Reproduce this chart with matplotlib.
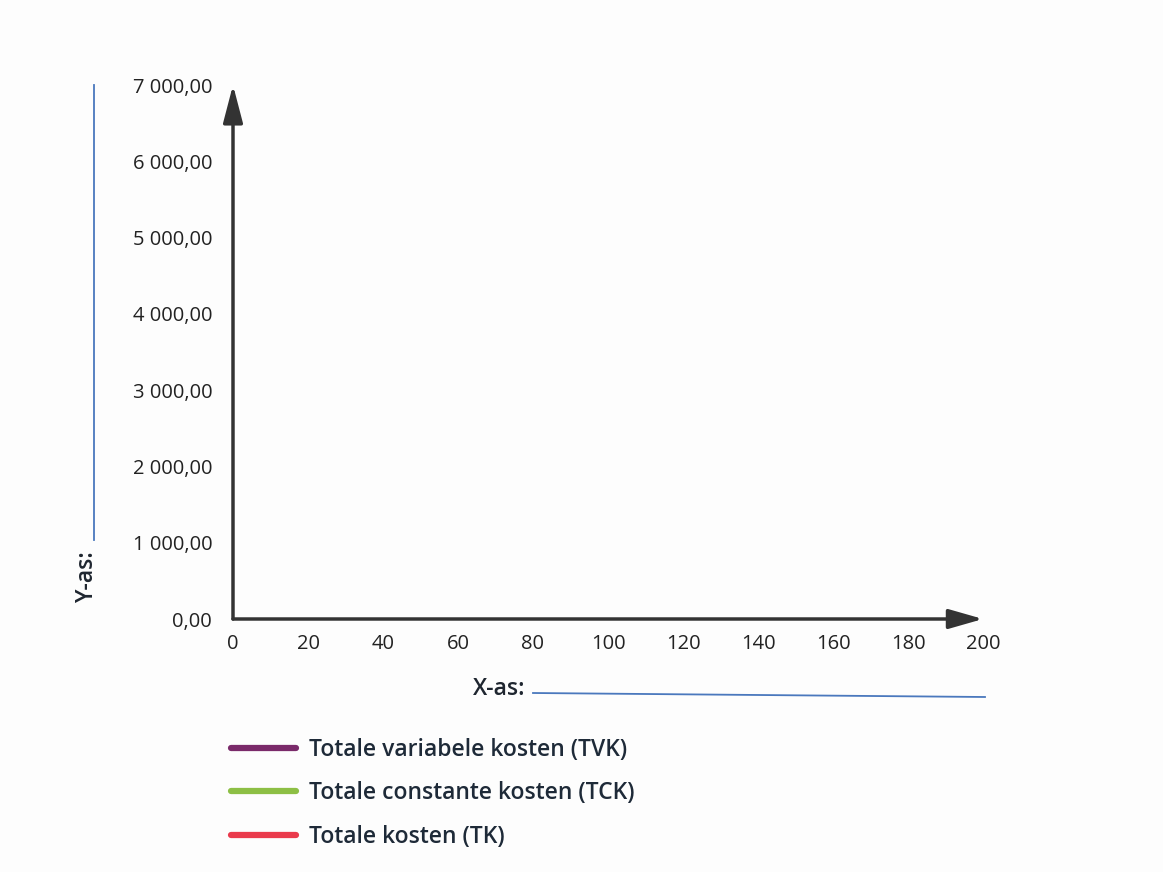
import matplotlib
matplotlib.use("Agg")
import matplotlib.pyplot as plt
from matplotlib.patches import FancyArrowPatch
from matplotlib.lines import Line2D

# ---- data (empty worksheet chart) ----
x_ticks = [0, 20, 40, 60, 80, 100, 120, 140, 160, 180, 200]
y_ticks = [0, 1000, 2000, 3000, 4000, 5000, 6000, 7000]
series_names = ["Totale variabele kosten (TVK)",
                "Totale constante kosten (TCK)",
                "Totale kosten (TK)"]
series_colors = ["#7a2a6a", "#8dbf45", "#ea3a4c"]
x_label = "X-as:"
y_label = "Y-as:"

plt.rcParams['font.family'] = ['Open Sans', 'DejaVu Sans']

W, H = 1163, 872
fig = plt.figure(figsize=(W / 100, H / 100), dpi=100)
fig.patch.set_facecolor("#fdfdfd")

def fx(px):
    return px / W

def fy(py):
    return 1 - py / H

ax = fig.add_axes([fx(233), fy(619), fx(983) - fx(233), fy(85) - fy(619)])
ax.set_facecolor("none")
ax.set_xlim(0, 200)
ax.set_ylim(0, 7000)
for s in ax.spines.values():
    s.set_visible(False)

ax.set_xticks(x_ticks)
ax.set_yticks(y_ticks)
ax.set_xticklabels([str(v) for v in x_ticks])
ax.set_yticklabels([f"{v:,.2f}".replace(",", " ").replace(".", ",") for v in y_ticks])
ax.tick_params(axis="both", length=0, labelsize=14.5, labelcolor="#222222")
ax.tick_params(axis="x", pad=11)
ax.tick_params(axis="y", pad=15)

# empty series (to be filled in by student)
for name, col in zip(series_names, series_colors):
    ax.plot([], [], color=col, lw=4.5, solid_capstyle="round", label=name)

# axis arrows
axis_col = "#333333"
arr_y = FancyArrowPatch((0, 0), (0, 1), transform=ax.transAxes,
                        arrowstyle="-|>,head_length=23,head_width=6",
                        mutation_scale=1, lw=2.5, color=axis_col,
                        clip_on=False, shrinkA=0, shrinkB=0)
arr_x = FancyArrowPatch((0, 0), (1, 0), transform=ax.transAxes,
                        arrowstyle="-|>,head_length=21,head_width=6",
                        mutation_scale=1, lw=2.5, color=axis_col,
                        clip_on=False, shrinkA=0, shrinkB=0)
ax.add_patch(arr_y)
ax.add_patch(arr_x)

# answer lines (blue) and labels
blue = "#4a78bd"
fig.add_artist(Line2D([fx(94), fx(94)], [fy(85), fy(540)], color=blue, lw=1.3))
fig.add_artist(Line2D([fx(533), fx(985)], [fy(693), fy(697)], color=blue, lw=1.3))
fig.text(fx(87), fy(577), y_label, rotation=90, ha="center", va="center",
         fontsize=16.5, fontweight="semibold", color="#1f2630")
fig.text(fx(525), fy(689), x_label, ha="right", va="center",
         fontsize=16.5, fontweight="semibold", color="#1f2630")

leg = fig.legend(loc="upper left", bbox_to_anchor=(fx(210), fy(717)),
                 frameon=False, handlelength=2.85,
                 handletextpad=0.57, labelspacing=0.86,
                 prop={"weight": "semibold", "size": 16.5})
for t in leg.get_texts():
    t.set_color("#1e2a38")

fig.savefig("out.png", dpi=100, facecolor=fig.get_facecolor())
